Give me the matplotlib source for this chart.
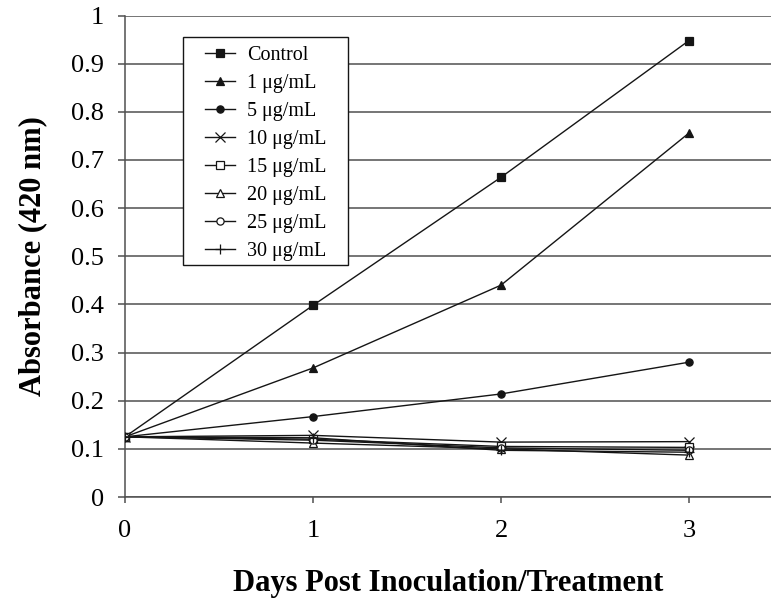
"""Absorbance at 420 nm over days post inoculation/treatment."""
import matplotlib
matplotlib.use("Agg")
import matplotlib.pyplot as plt
from matplotlib.patches import Rectangle

days = [0, 1, 2, 3]
labels = ["Control", "1 \u03bcg/mL", "5 \u03bcg/mL", "10 \u03bcg/mL",
          "15 \u03bcg/mL", "20 \u03bcg/mL", "25 \u03bcg/mL", "30 \u03bcg/mL"]
control = [0.125, 0.398, 0.664, 0.948]
dose_1 = [0.125, 0.268, 0.440, 0.756]
dose_5 = [0.125, 0.167, 0.214, 0.280]
dose_10 = [0.125, 0.128, 0.114, 0.115]
dose_15 = [0.125, 0.120, 0.105, 0.103]
dose_20 = [0.125, 0.112, 0.100, 0.087]
dose_25 = [0.125, 0.118, 0.102, 0.097]
dose_30 = [0.125, 0.123, 0.097, 0.093]
series = [control, dose_1, dose_5, dose_10, dose_15, dose_20, dose_25, dose_30]

# marker, filled?
markers = [("s", True), ("^", True), ("o", True), ("x", True),
           ("s", False), ("^", False), ("o", False), ("+", True)]

plt.rcParams["font.family"] = ["Liberation Serif", "DejaVu Serif"]
grey = "#505050"
ink = "#151515"

fig = plt.figure(figsize=(7.71, 6.03), dpi=100)
ax = fig.add_axes([125 / 771, 106 / 603, 646 / 771, 481.5 / 603])

for vals, lab, (m, filled) in zip(series, labels, markers):
    size = 6.5 if m in ("x", "+") else 5.2
    ax.plot(days, vals, color=ink, lw=1.0, marker=m, markersize=size,
            markerfacecolor=ink if filled else "white", markeredgecolor=ink,
            markeredgewidth=0.9, label=lab, zorder=3)

ax.set_xlim(0, 3.436)
ax.set_ylim(0, 1)
ax.set_xticks(days)
ax.set_yticks([i / 10 for i in range(11)])
ax.set_yticklabels(["0", "0.1", "0.2", "0.3", "0.4", "0.5", "0.6", "0.7",
                    "0.8", "0.9", "1"])
ax.yaxis.grid(True, color=grey, lw=1.1)
ax.set_axisbelow(True)
for side in ("top", "right"):
    ax.spines[side].set_visible(False)
for side in ("left", "bottom"):
    ax.spines[side].set_color(grey)
    ax.spines[side].set_linewidth(1.1)
ax.tick_params(axis="y", length=5, width=1.1, color=grey, pad=10, labelsize=19)
ax.tick_params(axis="x", length=4.5, width=1.1, color=grey, pad=12, labelsize=19)

ax.set_ylabel("Absorbance (420 nm)", fontsize=22, fontweight="bold")
ax.set_xlabel("Days Post Inoculation/Treatment", fontsize=22, fontweight="bold")
ax.yaxis.set_label_coords(-0.121, 0.5)
ax.xaxis.set_label_coords(0.5, -0.149)

# legend box drawn by hand so the padding matches the original
ax.add_patch(Rectangle((0.0898, 0.4818), 0.2554, 0.4735, transform=ax.transAxes,
                       facecolor="white", edgecolor=ink, lw=1.0, zorder=4))
leg = ax.legend(loc="upper left", bbox_to_anchor=(0.1238, 0.9377), borderaxespad=0,
                borderpad=0, fontsize=14.5, handlelength=1.5, handletextpad=0.6,
                labelspacing=0.445, frameon=False)
leg.set_zorder(5)

fig.savefig("out.png", dpi=100)
